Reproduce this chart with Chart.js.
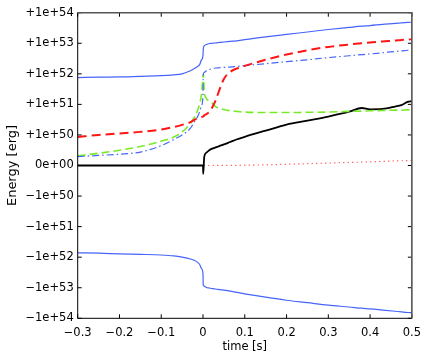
<!DOCTYPE html>
<html>
<head>
<meta charset="utf-8">
<script src="https://cdn.jsdelivr.net/npm/chart.js@4/dist/chart.umd.min.js"></script>
<style>
  html, body { margin: 0; padding: 0; background: #fff; }
  canvas { display: block; }
</style>
</head>
<body>
<canvas id="energyChart" width="429" height="359"></canvas>
<script>
// time [s]; 0 / 0.0005 carry the value just before / just after the jump
const time = [-0.3, -0.25, -0.2, -0.15, -0.1, -0.07, -0.05, -0.03, -0.02, -0.013, -0.008, -0.004,
    0, 0.0005, 0.003, 0.008, 0.015, 0.022, 0.03, 0.04, 0.05, 0.065, 0.08, 0.1,
    0.15, 0.2, 0.25, 0.3, 0.35, 0.38, 0.4, 0.43, 0.46, 0.475, 0.49, 0.5];

// energies in erg
const totalPositive = [7.5e51, 7.8e51, 7.9e51, 8.3e51, 8.7e51, 9.3e51, 1.0e52, 1.26e52, 1.51e52, 1.74e52, 2.0e52, 2.8e52,
    4.0e52, 6.3e52, 8.3e52, 9.1e52, 9.8e52, 1.0e53, 1.02e53, 1.07e53, 1.1e53, 1.15e53, 1.2e53, 1.32e53,
    1.62e53, 1.95e53, 2.34e53, 2.82e53, 3.31e53, 3.63e53, 3.8e53, 4.17e53, 4.47e53, 4.68e53, 4.79e53, 4.9e53];

const totalNegative = [-7.2e51, -7.4e51, -7.8e51, -8.1e51, -8.5e51, -9.1e51, -1.0e52, -1.15e52, -1.29e52, -1.48e52, -1.74e52, -2.29e52,
    -3.55e52, -7.9e52, -8.9e52, -9.8e52, -1.02e53, -1.07e53, -1.1e53, -1.15e53, -1.2e53, -1.29e53, -1.41e53, -1.58e53,
    -2.04e53, -2.57e53, -3.09e53, -3.72e53, -4.27e53, -4.68e53, -4.9e53, -5.37e53, -5.89e53, -6.17e53, -6.46e53, -6.61e53];

const redDashed = [9.3e49, 1.0e50, 1.12e50, 1.26e50, 1.51e50, 1.82e50, 2.14e50, 2.63e50, 3.16e50, 3.39e50, 3.55e50, 3.72e50,
    4.0e50, 4.0e50, 4.37e50, 4.79e50, 5.6e50, 7.9e50, 1.32e51, 3.16e51, 6.8e51, 1.15e52, 1.48e52, 1.82e52,
    2.88e52, 4.27e52, 5.9e52, 7.6e52, 9.1e52, 1.0e53, 1.05e53, 1.15e53, 1.23e53, 1.29e53, 1.32e53, 1.35e53];

const blueDashDot = [2.9e49, 3.3e49, 3.7e49, 4.4e49, 6.5e49, 8.5e49, 1.0e50, 1.66e50, 2.8e50, 3.98e50, 5.75e50, 8.9e50,
    2.0e51, 9.1e51, 1.12e52, 1.26e52, 1.38e52, 1.48e52, 1.55e52, 1.58e52, 1.62e52, 1.66e52, 1.74e52, 1.86e52,
    2.14e52, 2.5e52, 2.88e52, 3.4e52, 3.9e52, 4.27e52, 4.47e52, 4.9e52, 5.4e52, 5.6e52, 5.9e52, 6.0e52];

const greenDashed = [3.2e49, 4.0e49, 5.0e49, 6.2e49, 8.0e49, 9.3e49, 1.26e50, 2.4e50, 4.0e50, 6.3e50, 1.05e51, 2.0e51,
    7.9e51, 1.0e52, 2.6e51, 1.58e51, 1.26e51, 1.1e51, 8.5e50, 7.4e50, 6.8e50, 6.2e50, 5.9e50, 5.6e50,
    5.4e50, 5.4e50, 5.5e50, 5.6e50, 5.9e50, 6.0e50, 6.2e50, 6.3e50, 6.5e50, 6.5e50, 6.6e50, 6.6e50];

const blackSolid = [0, 0, 0, 0, 0, 0, 0, 0, 0, 0, 0, 0,
    0, -2.7e49, 2.9e49, 4.2e49, 5.0e49, 5.5e49, 5.9e49, 6.4e49, 6.9e49, 7.7e49, 8.5e49, 9.4e49,
    1.38e50, 2.19e50, 2.95e50, 3.98e50, 5.75e50, 7.6e50, 6.9e50, 7.1e50, 8.5e50, 9.5e50, 1.2e51, 1.29e51];

const redDotted = [0, 0, 0, 0, 0, 0, 0, 0, 0, 0, 0, 0,
    0, 0, 0, 0, 0, 1e47, 1e47, 2e47, 3e47, 4e47, 5e47, 1e48,
    2e48, 4e48, 6e48, 8e48, 1.0e49, 1.1e49, 1.2e49, 1.35e49, 1.5e49, 1.55e49, 1.6e49, 1.65e49];

const yTickLevels = [-5, -4, -3, -2, -1, 0, 1, 2, 3, 4, 5];

// linear between -1e50 and 1e50, one decade per step outside
function level(e) {
    const a = Math.abs(e);
    if (a <= 1e50) return e / 1e50;
    return Math.sign(e) * (Math.log10(a) - 49);
}

function levelLabel(v) {
    if (v === 0) return '0e+00';
    return (v > 0 ? '+' : '\u2212') + '1e+' + (49 + Math.abs(v));
}

function points(values) {
    return time.map((t, i) => ({ x: t, y: level(values[i]) }));
}

const BLUE = 'rgb(70, 100, 250)';

// box with inward ticks on all four sides
const boxPlugin = {
    id: 'box',
    afterDatasetsDraw(chart) {
        const { ctx, chartArea: a, scales } = chart;
        ctx.save();
        ctx.strokeStyle = '#000';
        ctx.lineWidth = 1;
        ctx.beginPath();
        scales.x.ticks.forEach(t => {
            const px = scales.x.getPixelForValue(t.value);
            ctx.moveTo(px, a.bottom); ctx.lineTo(px, a.bottom - 4);
            ctx.moveTo(px, a.top); ctx.lineTo(px, a.top + 4);
        });
        scales.y.ticks.forEach(t => {
            const py = scales.y.getPixelForValue(t.value);
            ctx.moveTo(a.left, py); ctx.lineTo(a.left + 4, py);
            ctx.moveTo(a.right, py); ctx.lineTo(a.right - 4, py);
        });
        ctx.stroke();
        ctx.beginPath();
        ctx.moveTo(a.left, a.top); ctx.lineTo(a.left, a.bottom); ctx.lineTo(a.right, a.bottom);
        ctx.stroke();
        ctx.strokeStyle = '#555';
        ctx.lineWidth = 1.6;
        ctx.beginPath();
        ctx.moveTo(a.left, a.top); ctx.lineTo(a.right, a.top); ctx.lineTo(a.right, a.bottom);
        ctx.stroke();
        ctx.restore();
    }
};

const tickFont = { family: 'DejaVu Sans', size: 11.5 };

new Chart(document.getElementById('energyChart').getContext('2d'), {
    type: 'line',
    data: {
        datasets: [
            { data: points(totalPositive), borderColor: BLUE, borderWidth: 1.2 },
            { data: points(totalNegative), borderColor: BLUE, borderWidth: 1.2 },
            { data: points(redDashed), borderColor: 'rgb(255, 20, 20)', borderWidth: 2, borderDash: [9, 5] },
            { data: points(blueDashDot), borderColor: BLUE, borderWidth: 1.2, borderDash: [7, 3, 1.5, 3] },
            { data: points(greenDashed), borderColor: 'rgb(120, 235, 40)', borderWidth: 1.6, borderDash: [8, 4] },
            { data: points(blackSolid), borderColor: '#000', borderWidth: 1.8 },
            { data: points(redDotted), borderColor: 'rgb(255, 80, 80)', borderWidth: 1.2, borderDash: [1.2, 3.3] }
        ]
    },
    options: {
        responsive: false,
        animation: false,
        events: [],
        parsing: false,
        elements: { point: { radius: 0 }, line: { cubicInterpolationMode: 'monotone', fill: false } },
        layout: { padding: { left: 0, right: 14.7, top: 12.7, bottom: 0 } },
        plugins: { legend: { display: false }, tooltip: { enabled: false } },
        scales: {
            x: {
                type: 'linear',
                min: -0.3,
                max: 0.5,
                grid: { display: false, drawTicks: false },
                border: { display: false },
                afterFit: s => { s.height = 40.7; },
                ticks: {
                    stepSize: 0.1,
                    padding: 8,
                    color: '#000',
                    font: tickFont,
                    maxRotation: 0,
                    callback: v => {
                        const r = Math.round(v * 10) / 10;
                        if (r === 0) return '0';
                        return (r < 0 ? '\u2212' : '') + Math.abs(r).toFixed(1);
                    }
                },
                title: { display: true, text: 'time [s]', color: '#000', font: tickFont, padding: { top: 0, bottom: 5 } }
            },
            y: {
                type: 'linear',
                min: -5,
                max: 5,
                grid: { display: false, drawTicks: false },
                border: { display: false },
                afterFit: s => { s.width = 77.7; },
                afterBuildTicks: s => { s.ticks = yTickLevels.map(v => ({ value: v })); },
                ticks: {
                    padding: 4,
                    color: '#000',
                    font: tickFont,
                    callback: v => levelLabel(v)
                },
                title: { display: true, text: 'Energy [erg]', color: '#000', font: { family: 'DejaVu Sans', size: 13 }, padding: { top: 5, bottom: 0 } }
            }
        }
    },
    plugins: [boxPlugin]
});
</script>
</body>
</html>
